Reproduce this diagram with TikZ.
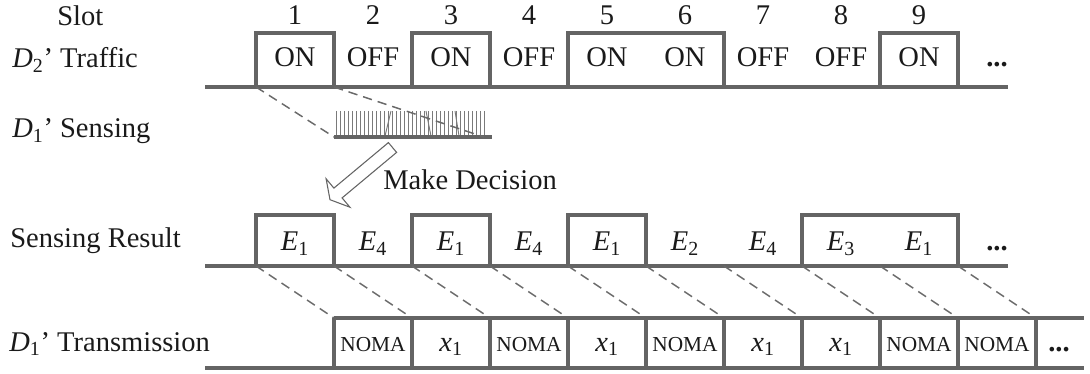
\documentclass[tikz,border=0pt]{standalone}
\usepackage{fontspec}
\setmainfont{Liberation Serif}
\definecolor{lineg}{HTML}{646464}
\definecolor{dashg}{HTML}{6A6A6A}
\definecolor{hatchg}{HTML}{7A7A7A}
\definecolor{inkc}{HTML}{1A1A1A}
\newcommand\isub[2]{\textit{#1}\textsubscript{#2}}
\begin{document}
\begin{tikzpicture}[x=0.75pt,y=-0.75pt,
  every node/.style={inner sep=0pt,text=inkc},
  txt/.style={font=\fontsize{21.4}{25}\selectfont,anchor=base},
  nomafont/.style={font=\fontsize{16}{19}\selectfont,anchor=base},
  rowlabel/.style={font=\fontsize{21.4}{25}\selectfont,anchor=base west},
  rowline/.style={draw=lineg,line width=2.3pt},
  guide/.style={draw=dashg,line width=1.1pt,dash pattern=on 7pt off 4.5pt},
  hatch/.style={draw=hatchg,line width=0.7pt},
  blockarrow/.style={draw=lineg,fill=white,line width=0.8pt,line join=miter}]
\useasboundingbox (0,0) rectangle (1090,374);

% ---- row labels ----
\node[rowlabel] (lslot) at (57,26) {Slot};
\node[rowlabel] (ltraf) at (12,68) {\isub{D}{2}’ Traffic};
\node[rowlabel] (lsens) at (12,138) {\isub{D}{1}’ Sensing};
\node[rowlabel] (lres)  at (10,248) {Sensing Result};
\node[rowlabel] (ltx)   at (9,351)  {\isub{D}{1}’ Transmission};

% ---- slot numbers ----
\foreach \i in {1,...,9}
  \node[txt] (num\i) at ({295+78*(\i-1)},25) {\i};

% ---- slot boundary coordinates ----
\foreach \k in {0,...,10} {
  \coordinate (t\k) at ({256+78*\k},87);
  \coordinate (r\k) at ({256+78*\k},266);
  \coordinate (m\k) at ({334+78*\k},318);
  \coordinate (b\k) at ({334+78*\k},368);
}

% ---- D2 traffic row ----
\draw[rowline] (205,87) -- (1008,87);
\foreach \a/\b in {256/334,412/490,568/724,880/958}
  \draw[rowline] (\a,87) |- (\b,33) -- (\b,87);
\foreach \t [count=\i] in {ON,OFF,ON,OFF,ON,ON,OFF,OFF,ON}
  \node[txt] (tr\i) at ({295+78*(\i-1)},67) {\t};
\node[txt] (trdots) at (997,67) {\textbf{...}};

% ---- D1 sensing window ----
\coordinate (sl) at (334,137);
\coordinate (sr) at (484,137);
\foreach \x in {336,340,...,484}
  \draw[hatch] (\x,111) -- (\x,136);
\draw[hatch] (385,136) -- (391,111);
\draw[hatch] (431,136) -- (426,111);
\draw[hatch] (459,136) -- (455,111);
\draw[rowline] (sl) -- (492,137);
\draw[guide] (t0) -- (sl);
\draw[guide] (t1) -- (sr);

% ---- decision arrow ----
\draw[blockarrow] (388.4,142.6) -- (333.9,188.1) -- (326.1,178.8) -- (330,199.7)
  -- (349.9,207.2) -- (342.1,197.9) -- (396.6,152.4) -- cycle;
\node[rowlabel] (mk) at (383,190) {Make Decision};

% ---- sensing result row ----
\draw[rowline] (205,266) -- (1008,266);
\foreach \a/\b in {256/334,412/490,568/646,802/958}
  \draw[rowline] (\a,266) |- (\b,215) -- (\b,266);
\foreach \e [count=\i] in {1,4,1,4,1,2,4,3,1}
  \node[txt] (res\i) at ({295+78*(\i-1)},251) {\isub{E}{\e}};
\node[txt] (resdots) at (997,251) {\textbf{...}};

% ---- mapping from decisions to transmissions ----
\foreach \k in {0,...,9}
  \draw[guide] (r\k) -- (m\k);

% ---- D1 transmission row ----
\draw[rowline] (205,368) -- (1084,368);
\draw[rowline] (m0) -- (1084,318);
\foreach \k in {0,...,9}
  \draw[rowline] (m\k) -- (b\k);
\foreach \k in {0,2,4,7,8}
  \node[nomafont] (tx\k) at ({373+78*\k},351) {NOMA};
\foreach \k in {1,3,5,6}
  \node[txt] (tx\k) at ({373+78*\k},351) {\isub{x}{1}};
\node[txt] (txdots) at (1059,351) {\textbf{...}};
\end{tikzpicture}
\end{document}
